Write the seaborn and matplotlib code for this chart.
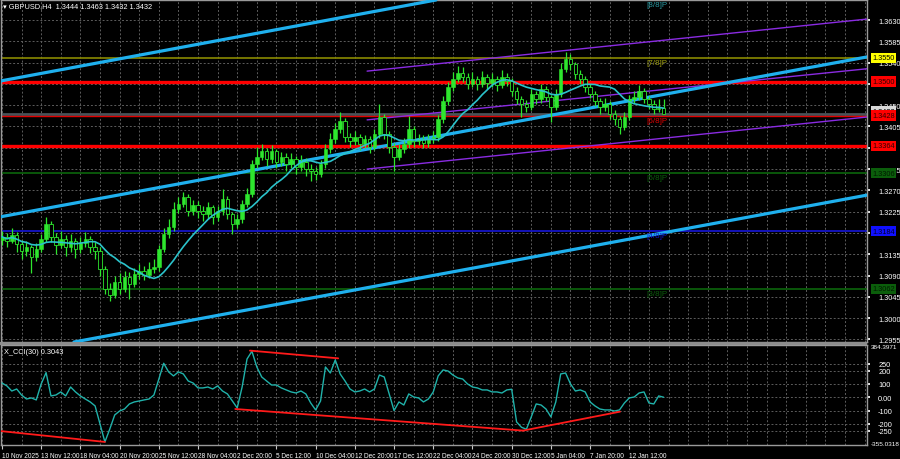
import numpy as np
import pandas as pd
import matplotlib
matplotlib.use("Agg")
import matplotlib.pyplot as plt
import matplotlib.transforms as mtransforms
from matplotlib.patches import Rectangle
import seaborn as sns

# ---------------- data (8-hour bars) ----------------
first_open = 1.3165
close = [
    1.3172, 1.3163, 1.3176, 1.3157, 1.3142, 1.3150, 1.3129, 1.3146, 1.3167, 1.3199,
    1.3172, 1.3155, 1.3167, 1.3150, 1.3163, 1.3146, 1.3159, 1.3167, 1.3150, 1.3142,
    1.3104, 1.3062, 1.3049, 1.3076, 1.3062, 1.3087, 1.3072, 1.3093, 1.3100, 1.3091,
    1.3104, 1.3108, 1.3146, 1.3178, 1.3193, 1.3231, 1.3241, 1.3256, 1.3226, 1.3239,
    1.3226, 1.3220, 1.3235, 1.3214, 1.3226, 1.3252, 1.3220, 1.3199, 1.3210, 1.3241,
    1.3262, 1.3326, 1.3341, 1.3353, 1.3336, 1.3353, 1.3330, 1.3341, 1.3326, 1.3336,
    1.3319, 1.3330, 1.3315, 1.3311, 1.3305, 1.3326, 1.3358, 1.3379, 1.3400, 1.3417,
    1.3383, 1.3374, 1.3383, 1.3368, 1.3379, 1.3362, 1.3389, 1.3425, 1.3389, 1.3362,
    1.3341, 1.3358, 1.3368, 1.3400, 1.3374, 1.3379, 1.3370, 1.3379, 1.3383, 1.3421,
    1.3459, 1.3489, 1.3505, 1.3518, 1.3510, 1.3495, 1.3505, 1.3495, 1.3510, 1.3497,
    1.3505, 1.3493, 1.3510, 1.3501, 1.3480, 1.3463, 1.3453, 1.3446, 1.3474, 1.3463,
    1.3484, 1.3467, 1.3446, 1.3474, 1.3527, 1.3548, 1.3537, 1.3516, 1.3505, 1.3489,
    1.3474, 1.3459, 1.3446, 1.3453, 1.3431, 1.3421, 1.3404, 1.3425, 1.3463, 1.3467,
    1.3480, 1.3463, 1.3453, 1.3442, 1.3444, 1.3432,
]
high = [
    1.3185, 1.3180, 1.3190, 1.3182, 1.3165, 1.3162, 1.3155, 1.3158, 1.3178, 1.3214,
    1.3205, 1.3180, 1.3185, 1.3175, 1.3178, 1.3170, 1.3172, 1.3182, 1.3174, 1.3160,
    1.3150, 1.3110, 1.3075, 1.3090, 1.3095, 1.3100, 1.3098, 1.3105, 1.3115, 1.3110,
    1.3118, 1.3125, 1.3155, 1.3190, 1.3210, 1.3245, 1.3255, 1.3266, 1.3262, 1.3250,
    1.3248, 1.3236, 1.3245, 1.3240, 1.3238, 1.3273, 1.3258, 1.3225, 1.3220, 1.3250,
    1.3275, 1.3335, 1.3362, 1.3368, 1.3360, 1.3365, 1.3358, 1.3352, 1.3348, 1.3350,
    1.3342, 1.3345, 1.3338, 1.3325, 1.3320, 1.3335, 1.3368, 1.3392, 1.3412, 1.3436,
    1.3422, 1.3392, 1.3395, 1.3390, 1.3388, 1.3385, 1.3400, 1.3453, 1.3432, 1.3395,
    1.3370, 1.3368, 1.3380, 1.3427, 1.3405, 1.3390, 1.3388, 1.3390, 1.3395, 1.3430,
    1.3470, 1.3500, 1.3520, 1.3532, 1.3531, 1.3518, 1.3520, 1.3512, 1.3522, 1.3515,
    1.3518, 1.3512, 1.3525, 1.3518, 1.3508, 1.3488, 1.3470, 1.3462, 1.3485, 1.3480,
    1.3495, 1.3490, 1.3472, 1.3485, 1.3540, 1.3562, 1.3558, 1.3542, 1.3525, 1.3512,
    1.3495, 1.3480, 1.3465, 1.3465, 1.3458, 1.3440, 1.3428, 1.3435, 1.3472, 1.3480,
    1.3493, 1.3486, 1.3470, 1.3460, 1.3463, 1.3463,
]
low = [
    1.3155, 1.3150, 1.3158, 1.3140, 1.3125, 1.3132, 1.3095, 1.3120, 1.3140, 1.3160,
    1.3160, 1.3135, 1.3148, 1.3132, 1.3140, 1.3128, 1.3138, 1.3150, 1.3138, 1.3125,
    1.3090, 1.3050, 1.3036, 1.3042, 1.3050, 1.3055, 1.3040, 1.3065, 1.3082, 1.3080,
    1.3085, 1.3095, 1.3100, 1.3140, 1.3170, 1.3185, 1.3222, 1.3235, 1.3215, 1.3218,
    1.3212, 1.3205, 1.3210, 1.3200, 1.3205, 1.3218, 1.3210, 1.3178, 1.3190, 1.3202,
    1.3235, 1.3255, 1.3318, 1.3335, 1.3322, 1.3328, 1.3318, 1.3322, 1.3312, 1.3318,
    1.3305, 1.3310, 1.3300, 1.3290, 1.3292, 1.3298, 1.3318, 1.3350, 1.3370, 1.3392,
    1.3372, 1.3362, 1.3365, 1.3355, 1.3360, 1.3350, 1.3355, 1.3380, 1.3378, 1.3350,
    1.3311, 1.3335, 1.3350, 1.3360, 1.3362, 1.3365, 1.3360, 1.3362, 1.3370, 1.3375,
    1.3412, 1.3450, 1.3480, 1.3498, 1.3500, 1.3485, 1.3488, 1.3482, 1.3488, 1.3485,
    1.3488, 1.3480, 1.3486, 1.3490, 1.3470, 1.3452, 1.3425, 1.3435, 1.3440, 1.3452,
    1.3455, 1.3458, 1.3415, 1.3440, 1.3468, 1.3520, 1.3525, 1.3505, 1.3495, 1.3478,
    1.3465, 1.3448, 1.3432, 1.3438, 1.3420, 1.3408, 1.3390, 1.3398, 1.3418, 1.3455,
    1.3460, 1.3455, 1.3442, 1.3432, 1.3435, 1.3432,
]
cci = [
    107, 85, 47, 62, 17, -13, -5, -20, 100, 185,
    10, 17, 40, 10, 77, 40, 10, -13, -35, -65,
    -200, -335, -238, -133, -103, -88, -50, -35, -28, -20,
    -13, 17, 137, 255, 190, 160, 190, 175, 122, 107,
    70, 70, 77, 62, 85, 47, 25, -28, -80, 77,
    287, 345, 227, 152, 122, 92, 92, 70, 55, 40,
    32, 47, 25, -43, -95, -28, 227, 182, 280, 175,
    122, 62, 40, 47, 62, 40, 62, 167, 152, 25,
    -100, -35, -58, 25, 2, -5, -35, -13, 40, 160,
    205, 197, 167, 145, 137, 100, 77, 70, 55, 55,
    40, 40, 32, 55, 60, -185, -225, -240, -147, -50,
    -58, -88, -147, -35, 175, 182, 100, 47, 55, 40,
    -35, -65, -88, -95, -95, -103, -95, -43, -5, 2,
    32, 40, -43, -50, 10, 0.3043,
]
date_labels = ["10 Nov 2025", "13 Nov 12:00", "18 Nov 04:00", "20 Nov 20:00",
               "25 Nov 12:00", "28 Nov 04:00", "2 Dec 20:00", "5 Dec 12:00",
               "10 Dec 04:00", "12 Dec 20:00", "17 Dec 12:00", "22 Dec 04:00",
               "24 Dec 20:00", "30 Dec 12:00", "5 Jan 04:00", "7 Jan 20:00",
               "12 Jan 12:00"]
price_ticks = [1.3630, 1.3585, 1.3540, 1.3495, 1.3450, 1.3405, 1.3360, 1.3315,
               1.3270, 1.3225, 1.3180, 1.3135, 1.3090, 1.3045, 1.3000, 1.2955]
# tick labels fully covered by the coloured level boxes are left blank
price_tick_labels = ["1.3630", "1.3585", "1.3540", "", "1.3450", "1.3405", "", "1.3315",
                     "1.3270", "1.3225", "", "1.3135", "1.3090", "1.3045", "1.3000", "1.2955"]
cci_ticks = [250, 200, 100, 0, -100, -200, -250]
cci_tick_labels = ["250", "200", "100", "0.00", "-100", "-200", "-250"]

# trend channel lines (bar, price) pairs
blue_lines = [((-0.4, 1.3501), (87.35, 1.3670)),
              ((-0.4, 1.3214), (176.5, 1.3552)),
              ((14.9, 1.2950), (176.5, 1.3260))]
purple_lines = [((74.5, 1.3522), (176.5, 1.3632)),
                ((74.5, 1.3419), (176.5, 1.3527)),
                ((74.5, 1.3315), (176.5, 1.3425))]
# horizontal levels: price, color, width
levels = [(1.3550, "#8a8a00", 1.2), (1.3500, "#ff0000", 2.4), (1.3432, "#4a5258", 2.0),
          (1.3428, "#e00000", 1.0), (1.3364, "#ff0000", 2.4), (1.3306, "#0b5e0b", 1.3),
          (1.3184, "#1414c8", 1.3), (1.3062, "#0b5e0b", 1.3)]
# right-side price boxes
boxes = [(1.3550, "1.3550", "#ffff00", "black"), (1.3500, "1.3500", "#ff0000", "#300000"),
         (1.3437, "1.3432", "#d8d8d8", "black"),
         (1.3428, "1.3428", "#ff0000", "#300000"), (1.3364, "1.3364", "#ff0000", "#300000"),
         (1.3306, "1.3306", "#0b5e0b", "#001a00"), (1.3184, "1.3184", "#1010ff", "#000030"),
         (1.3062, "1.3062", "#0b5e0b", "#001a00")]
murrey = [(1.3672, "[8/8]P", "#2a9aa2"), (1.3550, "[7/8]P", "#a0a010"),
          (1.3428, "[6/8]P", "#e00000"), (1.3306, "[5/8]P", "#0b5e0b"),
          (1.3184, "[4/8]P", "#1414c8"), (1.3062, "[3/8]P", "#0b5e0b")]
cci_div_lines = [((-0.4, -253), (21.0, -335)), ((50.6, 350), (68.6, 292)),
                 ((47.6, -88), (106.3, -250)), ((106.3, -250), (126.1, -108))]

# ---------------- figure ----------------
sns.set_theme(style="dark", rc={"axes.facecolor": "black", "figure.facecolor": "black",
                                "savefig.facecolor": "black", "text.color": "white",
                                "xtick.color": "white", "ytick.color": "white"})
plt.rcParams["font.family"] = ["Liberation Sans", "DejaVu Sans"]
FS = 5.3

W, H = 900, 460
fig = plt.figure(figsize=(9, 4.6), dpi=100)
ax = fig.add_axes([1 / W, 1 - 343 / H, 866 / W, 342 / H])
ax2 = fig.add_axes([1 / W, 1 - 446 / H, 866 / W, 100 / H])

n = len(close)
bars = np.arange(n)
opens = [first_open] + close[:-1]
df = pd.DataFrame({"bar": bars, "open": opens, "close": close, "high": high, "low": low})
df["high"] = df[["high", "open", "close"]].max(axis=1)
df["low"] = df[["low", "open", "close"]].min(axis=1)
df["ma"] = df["close"].rolling(12, min_periods=1).mean()

XMIN, XMAX = -0.2, 176.5
grid_kw = dict(color="#5c5c5c", linestyle=(0, (2, 2)), linewidth=0.7)

for a in (ax, ax2):
    a.set_facecolor("black")
    a.set_xlim(XMIN, XMAX)
    a.set_xticks(range(0, 177, 4), minor=True)
    a.set_xticks(range(0, 8 * len(date_labels), 8))
    a.grid(True, which="both", axis="x", **grid_kw)
    a.grid(True, which="major", axis="y", **grid_kw)
    a.set_axisbelow(True)
    for s in a.spines.values():
        s.set_color("#9a9a9a")
        s.set_linewidth(1.0)
    a.yaxis.tick_right()
    a.tick_params(axis="y", which="both", length=2, pad=6, labelsize=FS,
                  colors="white", right=True, left=False)
    a.set_xlabel("")
    a.set_ylabel("")

# main panel
ax.set_ylim(1.29496, 1.36723)
ax.set_yticks(price_ticks)
ax.set_yticklabels(price_tick_labels)
ax.tick_params(axis="x", which="both", length=0, labelbottom=False)

for p, c, lw in levels:
    ax.axhline(p, color=c, lw=lw, zorder=2)
for (p1, p2) in blue_lines:
    ax.axline(p1, p2, color="#1fb0ee", lw=2.3, zorder=4)
for (p1, p2) in purple_lines:
    ax.plot([p1[0], XMAX + 5], [p1[1], p1[1] + (p2[1] - p1[1]) / (p2[0] - p1[0]) * (XMAX + 5 - p1[0])],
            color="#8a2be2", lw=1.0, zorder=3)

bull = df["close"] >= df["open"]
ax.vlines(df["bar"], df["low"], df["high"], color="#2ee62e", lw=0.9, zorder=5)
body = (df["close"] - df["open"]).abs().clip(lower=0.00006)
bottom = df[["open", "close"]].min(axis=1)
ax.bar(df["bar"][bull], body[bull], bottom=bottom[bull], width=0.72,
       color="#2ee62e", edgecolor="#2ee62e", linewidth=0.4, zorder=6)
ax.bar(df["bar"][~bull], body[~bull], bottom=bottom[~bull], width=0.72,
       color="black", edgecolor="#2ee62e", linewidth=0.6, zorder=6)

sns.lineplot(data=df, x="bar", y="ma", ax=ax, color="#2bc3cb", lw=1.2, zorder=7)
ax.set_xlabel("")
ax.set_ylabel("")

blend = mtransforms.blended_transform_factory(ax.transAxes, ax.transData)
for i, (p, lab, fc, tc) in enumerate(boxes):
    ax.text(1.006, p, lab, transform=blend, ha="left", va="center", fontsize=FS,
            color=tc, clip_on=False, zorder=10 + i,
            bbox=dict(boxstyle="square,pad=0.22", fc=fc, ec="none"))
for p, lab, c in murrey:
    ax.text(131.4, p - 0.0002, lab, ha="left", va="top", fontsize=FS + 0.5, color=c, zorder=8)

# CCI panel
ax2.set_ylim(-358, 392)
ax2.set_yticks(cci_ticks)
ax2.set_yticklabels(cci_tick_labels)
sns.lineplot(x=bars, y=cci, ax=ax2, color="#20b2aa", lw=1.0, zorder=5)
for (p1, p2) in cci_div_lines:
    ax2.plot([p1[0], p2[0]], [p1[1], p2[1]], color="#ff1a1a", lw=1.3, zorder=6)
blend2 = mtransforms.blended_transform_factory(ax2.transAxes, ax2.transData)
ax2.text(1.0045, 384.4, "384.3971", transform=blend2, ha="left", va="center",
         fontsize=FS - 0.7, color="white", clip_on=False)
ax2.text(1.0045, -345, "-355.0318", transform=blend2, ha="left", va="center",
         fontsize=FS - 0.7, color="white", clip_on=False)
ax2.set_xticklabels(date_labels, ha="left")
ax2.tick_params(axis="x", which="major", length=3, width=0.8, color="#c8c8c8",
                labelsize=FS - 0.6, labelcolor="white", pad=2, bottom=True)
ax2.tick_params(axis="x", which="minor", length=0)
ax2.set_xlabel("")
ax2.set_ylabel("")

# panel separator and header texts
fig.patches.append(Rectangle((0, 1 - 346 / H), 867 / W, 3 / H, transform=fig.transFigure,
                             facecolor="#8c8c8c", edgecolor="none", zorder=20))
fig.text(3 / W, 1 - 7 / H, "\u25be GBPUSD,H4  1.3444 1.3463 1.3432 1.3432",
         fontsize=FS, color="white", va="center", ha="left")
fig.text(4 / W, 1 - 352 / H, "X_CCI(30) 0.3043", fontsize=FS, color="white",
         va="center", ha="left")

fig.savefig("out.png", dpi=100, facecolor="black")
